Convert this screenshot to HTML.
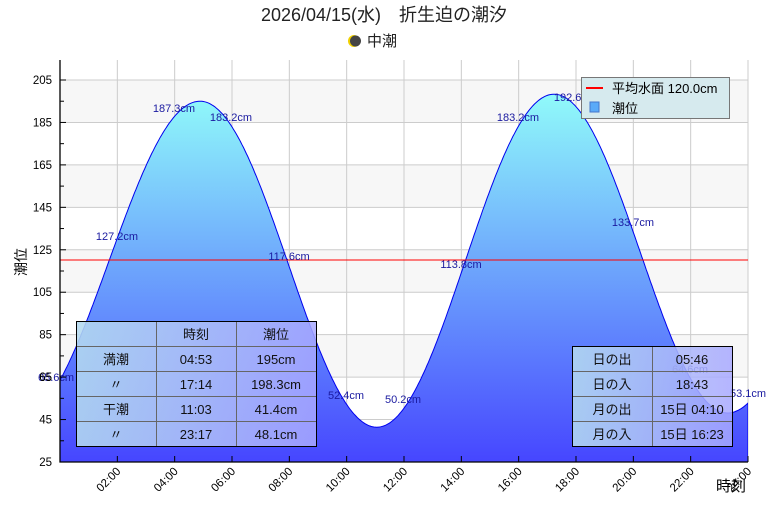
<!DOCTYPE html>
<html><head><meta charset="utf-8"><style>
body{margin:0;background:#fff;}
svg text{font-family:"Liberation Sans","Noto Sans CJK JP",sans-serif;}
</style></head><body>
<svg id="s" width="768" height="512" xmlns="http://www.w3.org/2000/svg">
<defs>
<linearGradient id="g" x1="0" y1="95" x2="0" y2="462" gradientUnits="userSpaceOnUse">
<stop offset="0" stop-color="#90fafa"/><stop offset="1" stop-color="#4646ff"/></linearGradient>
<linearGradient id="tb" x1="0" y1="0" x2="1" y2="0">
<stop offset="0" stop-color="#b4daf0" stop-opacity="0.88"/><stop offset="1" stop-color="#a8a8ff" stop-opacity="0.85"/></linearGradient>
<clipPath id="c"><rect x="60" y="60" width="688" height="402"/></clipPath>
</defs>
<text x="384" y="21" font-size="18" text-anchor="middle" fill="#222">2026/04/15(水)　折生迫の潮汐</text>
<circle cx="354" cy="41" r="6" fill="#f0d000"/><circle cx="355.5" cy="41" r="5.5" fill="#444"/>
<text x="367" y="46" font-size="15" fill="#222">中潮</text>
<g id="bands"></g>
<g id="grid" stroke="#ccc" stroke-width="1"></g>
<path id="area" fill="url(#g)" stroke="#0000ee" stroke-width="1" clip-path="url(#c)"/>
<line x1="60" y1="260" x2="748" y2="260" stroke="#f00" stroke-width="1"/>
<g id="lbl" font-size="11" fill="#1a1aa0"></g>
<g id="axes" stroke="#000" stroke-width="1.3" fill="none"><path d="M60 60V462H748"/></g>
<g id="tick" stroke="#000"></g>
<g id="tl" font-size="12" fill="#000"></g>
<text transform="translate(26,262) rotate(-90)" font-size="14" text-anchor="middle">潮位</text>
<text x="716" y="491" font-size="15">時刻</text>
<rect x="581.5" y="77.5" width="148" height="41" fill="#d6eaee" stroke="#777"/>
<line x1="586" y1="88" x2="603" y2="88" stroke="#f00" stroke-width="2"/>
<text x="612" y="93" font-size="13">平均水面 120.0cm</text>
<rect x="590" y="102" width="9" height="10" fill="#5aaaf8" stroke="#4477cc"/>
<text x="612" y="113" font-size="13">潮位</text>
<g font-size="13" text-anchor="middle" fill="#111">
<rect x="76.5" y="321.5" width="240" height="125" fill="url(#tb)" stroke="#000"/>
<g stroke="#666"><line x1="156.5" y1="322" x2="156.5" y2="446"/><line x1="236.5" y1="322" x2="236.5" y2="446"/>
<line x1="77" y1="346.5" x2="316" y2="346.5"/><line x1="77" y1="371.5" x2="316" y2="371.5"/><line x1="77" y1="396.5" x2="316" y2="396.5"/><line x1="77" y1="421.5" x2="316" y2="421.5"/></g>
<text x="196" y="339">時刻</text><text x="276" y="339">潮位</text>
<text x="116" y="364">満潮</text><text x="196" y="364">04:53</text><text x="276" y="364">195cm</text>
<text x="116" y="389">〃</text><text x="196" y="389">17:14</text><text x="276" y="389">198.3cm</text>
<text x="116" y="414">干潮</text><text x="196" y="414">11:03</text><text x="276" y="414">41.4cm</text>
<text x="116" y="439">〃</text><text x="196" y="439">23:17</text><text x="276" y="439">48.1cm</text>
<rect x="572.5" y="346.5" width="160" height="100" fill="url(#tb)" stroke="#000"/>
<g stroke="#666"><line x1="652.5" y1="347" x2="652.5" y2="446"/>
<line x1="573" y1="371.5" x2="732" y2="371.5"/><line x1="573" y1="396.5" x2="732" y2="396.5"/><line x1="573" y1="421.5" x2="732" y2="421.5"/></g>
<text x="612" y="364">日の出</text><text x="692" y="364">05:46</text>
<text x="612" y="389">日の入</text><text x="692" y="389">18:43</text>
<text x="612" y="414">月の出</text><text x="692" y="414">15日 04:10</text>
<text x="612" y="439">月の入</text><text x="692" y="439">15日 16:23</text>
</g>
</svg>
<script>
const NS="http://www.w3.org/2000/svg";
function el(p,t,a,txt){const e=document.createElementNS(NS,t);for(const k in a)e.setAttribute(k,a[k]);if(txt)e.textContent=txt;document.getElementById(p).appendChild(e);return e;}
const X=h=>60+h*688/24, Y=v=>462-(v-25)*382/180;
for(let v=65;v<205;v+=40){el("bands","rect",{x:60,y:Y(v+20),width:688,height:Y(v)-Y(v+20),fill:"#f7f7f7"});}
for(let v=45;v<=205;v+=20)el("grid","line",{x1:60,x2:748,y1:Y(v),y2:Y(v)});
for(let h=2;h<=24;h+=2)el("grid","line",{x1:X(h),x2:X(h),y1:60,y2:462});
const ex=[[-1.45,45],[4.883,195],[11.05,41.4],[17.233,198.3],[23.283,48.1],[29.6,196]];
function tide(t){for(let i=0;i<ex.length-1;i++){const[a,va]=ex[i],[b,vb]=ex[i+1];if(t>=a&&t<=b){const p=(t-a)/(b-a);return va+(vb-va)*(1-Math.cos(Math.PI*p))/2;}}return 0;}
let d="M60 462";for(let t=0;t<=24.001;t+=0.05)d+=" L"+X(t).toFixed(1)+" "+Y(tide(t)).toFixed(1);d+=" L748 462Z";
document.getElementById("area").setAttribute("d",d);
[[38,381,"65.6cm","start"],[117,240,"127.2cm","middle"],[174,112,"187.3cm","middle"],[231,121,"183.2cm","middle"],[289,260,"117.6cm","middle"],[346,399,"52.4cm","middle"],[403,403,"50.2cm","middle"],[461,268,"113.8cm","middle"],[518,121,"183.2cm","middle"],[575,101,"192.6cm","middle"],[633,226,"133.7cm","middle"],[690,373,"64.6cm","middle"],[748,397,"53.1cm","middle"]].forEach(a=>el("lbl","text",{x:a[0],y:a[1],"text-anchor":a[3]},a[2]));
for(let v=25;v<=205;v+=20){el("tl","text",{x:52,y:Y(v)+4,"text-anchor":"end","font-size":11.5},v);}
el("tl","text",{x:52,y:Y(65)+4,"text-anchor":"end","font-size":11.5},"65");
for(let v=35;v<=210;v+=10){el("tick","line",{x1:60,x2:(v-25)%20==0?66:64,y1:Y(v),y2:Y(v)});}
for(let h=2;h<=24;h+=2){el("tick","line",{x1:X(h),x2:X(h),y1:462,y2:456});
const hh=(h<10?"0":"")+h+":00";el("tl","text",{"font-size":11.5,"text-anchor":"end",transform:`translate(${X(h)+4},${472}) rotate(-45)`},hh);}
</script>
</body></html>
